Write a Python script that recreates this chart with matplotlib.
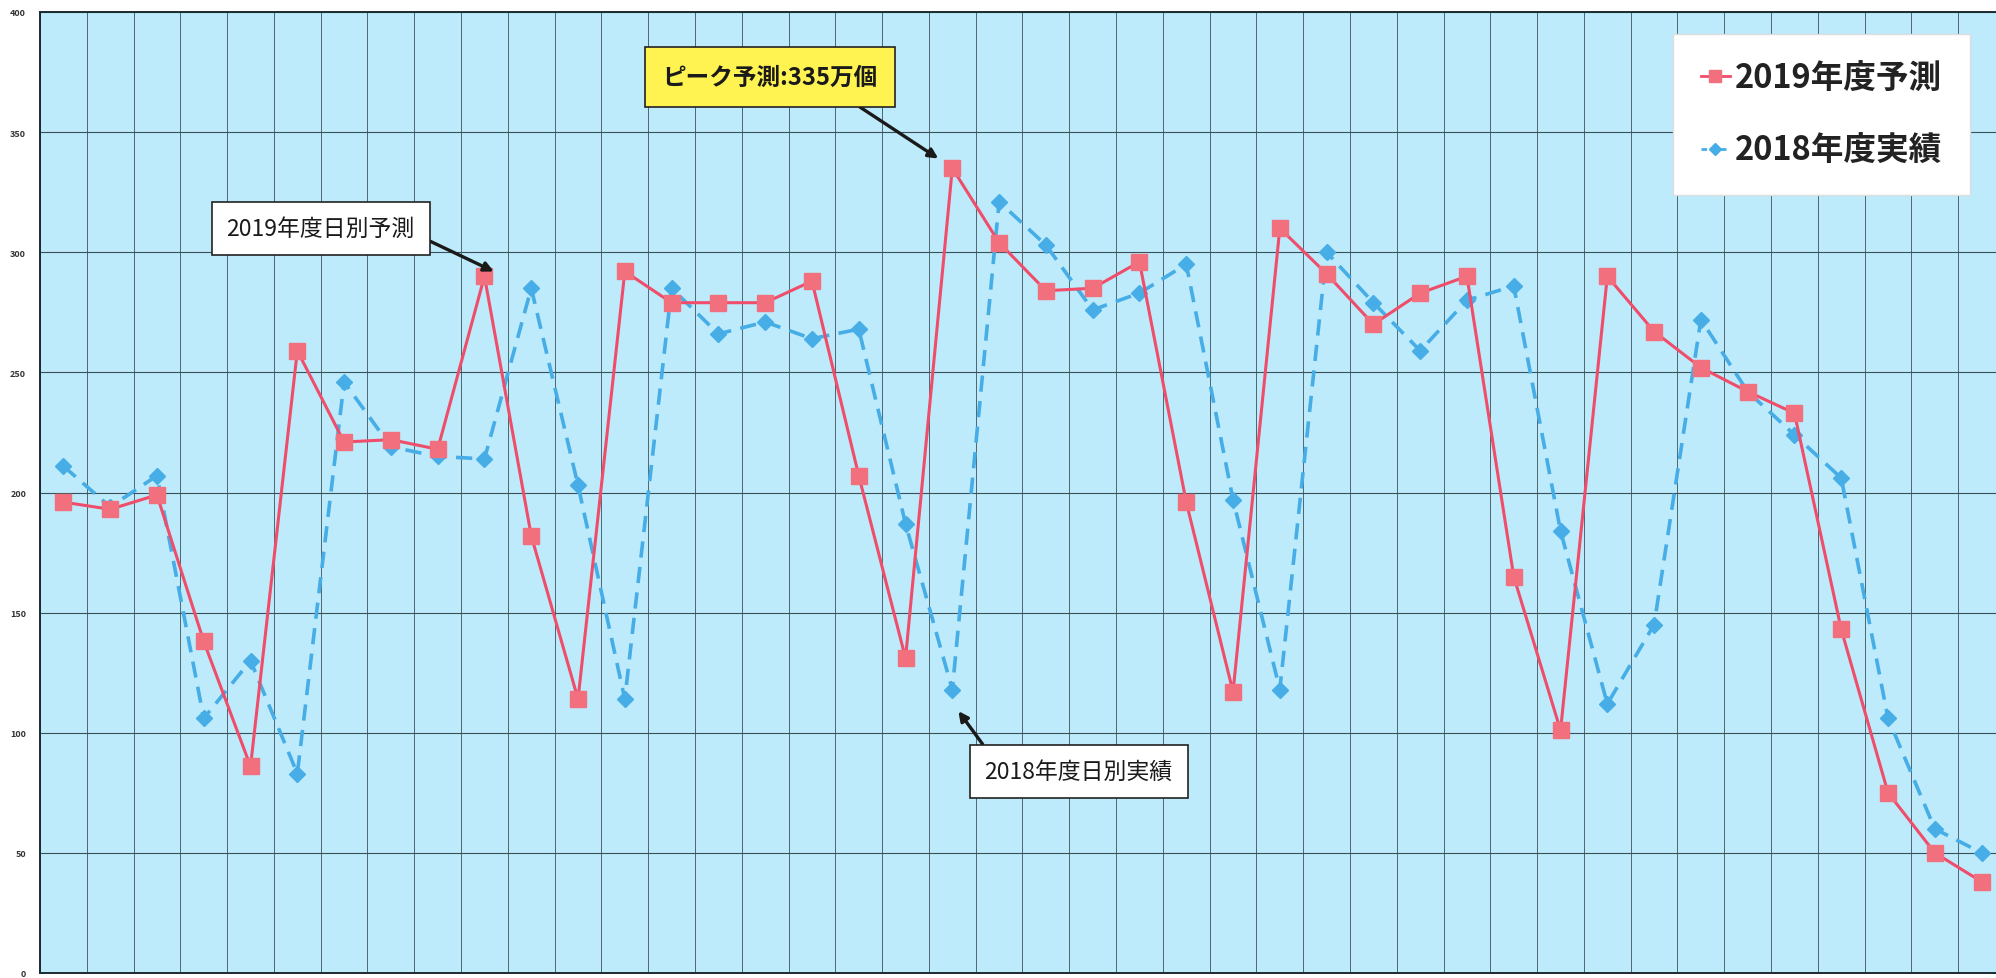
import matplotlib
matplotlib.use("Agg")
import matplotlib.pyplot as plt
import numpy as np
from matplotlib.lines import Line2D

plt.rcParams["font.family"] = ["Noto Sans CJK JP", "DejaVu Sans"]

# daily values (万個)
forecast_2019 = [196, 193, 199, 138, 86, 259, 221, 222, 218, 290,
                 182, 114, 292, 279, 279, 279, 288, 207, 131, 335,
                 304, 284, 285, 296, 196, 117, 310, 291, 270, 283,
                 290, 165, 101, 290, 267, 252, 242, 233, 143, 75,
                 50, 38]
actual_2018 = [211, 194, 207, 106, 130, 83, 246, 219, 215, 214,
               285, 203, 114, 285, 266, 271, 264, 268, 187, 118,
               321, 303, 276, 283, 295, 197, 118, 300, 279, 259,
               280, 286, 184, 112, 145, 272, 242, 224, 206, 106,
               60, 50]
series_labels = ["2019年度予測", "2018年度実績"]
y_ticks = [0, 50, 100, 150, 200, 250, 300, 350, 400]

RED = "#ef4d6a"
RED_MARK = "#f2707e"
BLUE = "#46ade6"
BG = "#bdebfb"
GRID = "#3c5058"

x = np.arange(len(forecast_2019))

fig = plt.figure(figsize=(19.96, 9.79), dpi=100)
ax = fig.add_axes([40 / 1996, 5 / 979, 1965 / 1996, 961 / 979])
ax.set_facecolor(BG)

ax.plot(x, actual_2018, color=BLUE, lw=2.6, ls=(0, (4.5, 2.6)),
        marker="D", ms=8.5, mfc=BLUE, mec=BLUE, zorder=3)
ax.plot(x, forecast_2019, color=RED, lw=2.2,
        marker="s", ms=11, mfc=RED_MARK, mec=RED_MARK, zorder=4)

ax.set_xlim(-0.5, len(x) - 0.5)
ax.set_ylim(0, 400)
ax.set_yticks(y_ticks)
ax.set_yticklabels([str(v) for v in y_ticks], fontsize=6.5,
                   color="#333333", fontweight="bold")
ax.set_xticks(np.arange(-0.5, len(x), 1))
ax.set_xticklabels([])
ax.tick_params(length=0, pad=10)
ax.grid(True, axis="y", color=GRID, lw=0.8, zorder=1)
ax.grid(True, axis="x", color=GRID, lw=0.6, zorder=1)
ax.set_axisbelow(True)
for side in ["left", "bottom", "top"]:
    ax.spines[side].set_color("#1c2a30")
    ax.spines[side].set_linewidth(1.4)
ax.spines["right"].set_visible(False)

# legend
handles = [
    Line2D([], [], color=RED, lw=2, marker="s", ms=8, mfc=RED_MARK, mec=RED_MARK),
    Line2D([], [], color=BLUE, lw=2, ls=(0, (2, 1.5)), marker="D", ms=6,
           mfc=BLUE, mec=BLUE),
]
leg = ax.legend(handles, series_labels, loc="upper left",
                bbox_to_anchor=(0.831, 0.977), fancybox=False,
                framealpha=1, edgecolor="#dddddd", handlelength=0.9,
                handletextpad=0.15, labelspacing=1.2, borderpad=0.85,
                borderaxespad=0,
                prop={"family": ["Noto Sans CJK JP", "DejaVu Sans"],
                      "size": 23.5, "weight": "bold"})
for t in leg.get_texts():
    t.set_color("#222222")

arrow = dict(arrowstyle="-|>", color="#1a1a1a", lw=2.4,
             mutation_scale=14, shrinkA=0, shrinkB=0)

ax.annotate("ピーク予測:335万個", xy=(18.7, 339), xytext=(15.1, 373),
            ha="center", va="center", fontsize=17, fontweight="bold",
            color="#1a1a1a",
            bbox=dict(boxstyle="square,pad=0.75", fc="#fff352",
                      ec="#222222", lw=1.2),
            arrowprops=dict(arrow, relpos=(0.79, 0)), zorder=6)

ax.annotate("2019年度日別予測", xy=(9.2, 292), xytext=(5.5, 310),
            ha="center", va="center", fontsize=16.5, color="#1a1a1a",
            bbox=dict(boxstyle="square,pad=0.65", fc="white",
                      ec="#222222", lw=1.2),
            arrowprops=dict(arrow, relpos=(1, 0.25)), zorder=6)

ax.annotate("2018年度日別実績", xy=(19.13, 109), xytext=(21.7, 84),
            ha="center", va="center", fontsize=16.5, color="#1a1a1a",
            bbox=dict(boxstyle="square,pad=0.65", fc="white",
                      ec="#222222", lw=1.2),
            arrowprops=dict(arrow, relpos=(0.05, 1)), zorder=6)

fig.savefig("out.png", dpi=100, facecolor="white")
